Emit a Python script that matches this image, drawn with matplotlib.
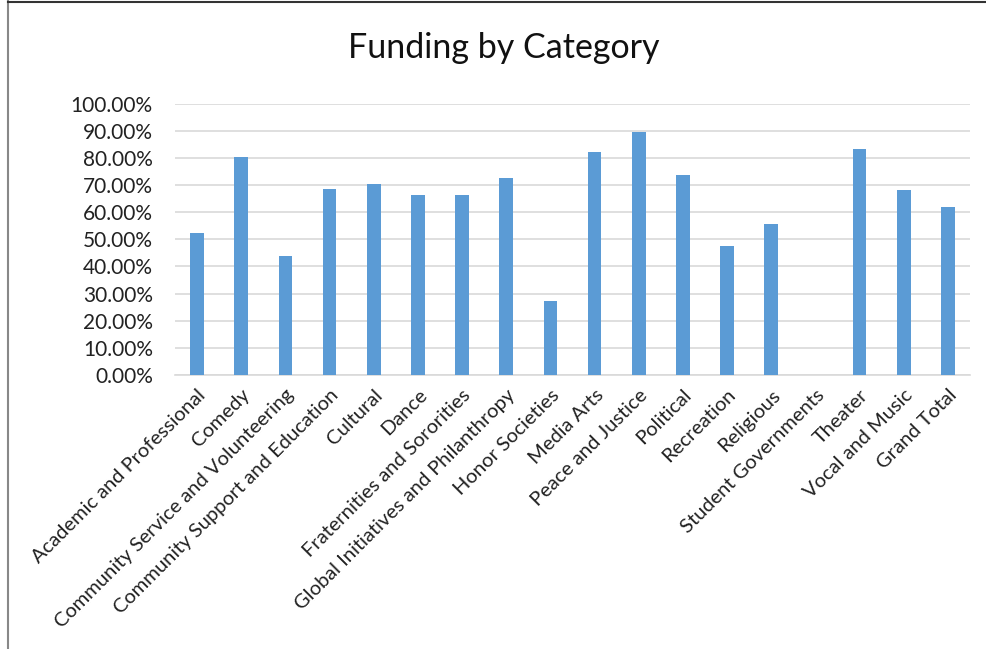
import matplotlib.pyplot as plt
from matplotlib.ticker import PercentFormatter
from matplotlib.lines import Line2D
import numpy as np

categories = [
    'Academic and Professional', 'Comedy', 'Community Service and Volunteering',
    'Community Support and Education', 'Cultural', 'Dance',
    'Fraternities and Sororities', 'Global Initiatives and Philanthropy',
    'Honor Societies', 'Media Arts', 'Peace and Justice', 'Political',
    'Recreation', 'Religious', 'Student Governments', 'Theater',
    'Vocal and Music', 'Grand Total',
]
funding_share = [
    0.522, 0.803, 0.437, 0.686, 0.703, 0.662, 0.662, 0.727, 0.273,
    0.821, 0.894, 0.738, 0.474, 0.555, 0.0, 0.834, 0.682, 0.620,
]
yticks = np.arange(0, 1.01, 0.1)

plt.rcParams['font.family'] = ['Lato', 'DejaVu Sans']

fig = plt.figure(figsize=(9.86, 6.49), dpi=100)
ax = fig.add_axes([175 / 986, 1 - 375 / 649, 795 / 986, 271.3 / 649])

x = np.arange(len(categories))
ax.bar(x, funding_share, width=0.31, color='#5b9bd5', zorder=3)

ax.set_xlim(-0.5, len(categories) - 0.5)
ax.set_ylim(0, 1)
ax.set_yticks(yticks)
ax.yaxis.set_major_formatter(PercentFormatter(1.0, decimals=2))
ax.grid(axis='y', color='#d9d9d9', linewidth=1.2, zorder=0)
ax.set_axisbelow(True)
for side in ['top', 'right', 'left']:
    ax.spines[side].set_visible(False)
ax.spines['bottom'].set_color('#d9d9d9')
ax.spines['bottom'].set_linewidth(1.2)

ax.set_xticks(x)
ax.set_xticklabels(categories, rotation=45, ha='right', rotation_mode='anchor',
                   fontsize=14.5, color='#222222')
ax.tick_params(axis='x', length=0, pad=8)
ax.tick_params(axis='y', length=0, pad=16, labelsize=15, labelcolor='#222222')

fig.text(504 / 986, 1 - 48 / 649, 'Funding by Category', ha='center', va='center',
         fontsize=24.5, color='#111111')

# chart frame edges
fig.add_artist(Line2D([8 / 986, 8 / 986], [0, 1], color='#888888', linewidth=1.5,
                      transform=fig.transFigure))
fig.add_artist(Line2D([8 / 986, 1], [1 - 2 / 649, 1 - 2 / 649], color='#333333',
                      linewidth=1.5, transform=fig.transFigure))

fig.savefig('out.png', dpi=100)
